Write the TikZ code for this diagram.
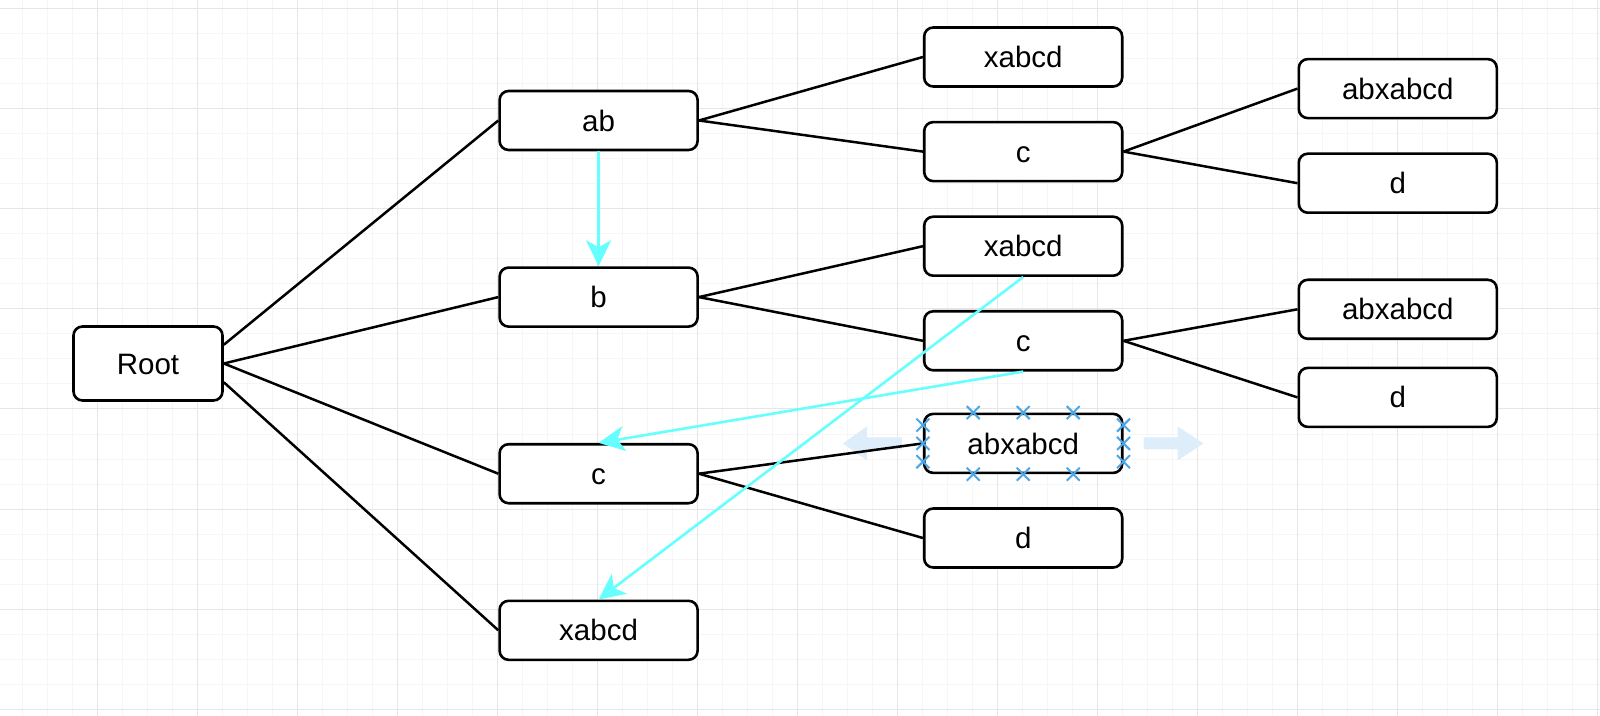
\documentclass[tikz,border=0pt]{standalone}
\usepackage{fontspec}
\setmainfont{Liberation Sans}
\usetikzlibrary{positioning, arrows.meta, shapes.misc}
\definecolor{linkcyan}{RGB}{102,255,255}
\definecolor{portblue}{RGB}{74,166,230}
\definecolor{hoverblue}{RGB}{221,238,250}
\definecolor{gridminor}{RGB}{246,246,246}
\definecolor{gridmajor}{RGB}{230,230,230}

\begin{document}
\begin{tikzpicture}[x=0.5pt,y=-0.5pt,>={Stealth[length=13pt,width=12.5pt,inset=3.5pt]},
    box/.style={draw,line width=1.3pt,rounded corners=4.5pt,fill=white,minimum width=99pt,minimum height=29.5pt,
      inner sep=0pt,text height=10.6pt,text depth=0pt,font=\fontsize{14.75pt}{17pt}\selectfont},
    rootbox/.style={box,minimum width=74.5pt,minimum height=37pt},
    treeline/.style={line width=1.25pt},
    linkarrow/.style={->,draw=linkcyan,line width=1.3pt},
    portx/.style={cross out,draw=portblue,line width=1pt,minimum size=5.5pt,inner sep=0pt},
    hoverarrow/.style={fill=hoverblue},
    minorgrid/.style={draw=gridminor,line width=0.5pt},
    majorgrid/.style={draw=gridmajor,line width=0.5pt}]
                % Background grid
                \fill[white] (0,0) rectangle (1600,716);
                \useasboundingbox (0,0) rectangle (1600,716);
                \foreach \gx in {22,47,...,1597} \draw[minorgrid] (\gx,0) -- (\gx,716);
                \foreach \gy in {9,34,...,709} \draw[minorgrid] (0,\gy) -- (1600,\gy);
                \foreach \gx in {97,197,...,1597} \draw[majorgrid] (\gx,0) -- (\gx,716);
                \foreach \gy in {9,109,...,709} \draw[majorgrid] (0,\gy) -- (1600,\gy);

                % Nodes
                \node[rootbox] (Root) at (148,363.5) {Root};

                \node[box,right=137.25pt of Root,yshift=121.5pt] (AB) {ab};
                \node[box,below=57.5pt of AB] (B) {b};
                \node[box,below=57.5pt of B] (CLeft) {c};
                \node[box,below=47.5pt of CLeft] (XLeft) {xabcd};

                \node[box,right=112pt of AB,yshift=31.75pt] (XTop) {xabcd};
                \node[box,below=16.5pt of XTop] (CTop) {c};
                \node[box,below=16.5pt of CTop] (XMid) {xabcd};
                \node[box,below=16.5pt of XMid] (CMid) {c};
                \node[box,below=20.5pt of CMid] (ABXSel) {abxabcd};
                \node[box,below=16.5pt of ABXSel] (DSel) {d};

                \node[box,right=87pt of CTop,yshift=31.5pt] (ABXTop) {abxabcd};
                \node[box,below=16.5pt of ABXTop] (DTop) {d};
                \node[box,right=87pt of CMid,yshift=15.75pt] (ABXLow) {abxabcd};
                \node[box,below=13.25pt of ABXLow] (DLow) {d};

                % Hover arrows of the selected box
                \begin{scope}[shift={(ABXSel.east)}]
                  \fill[hoverarrow] (20,-6) -- (54,-6) -- (54,-17) -- (80,0) -- (54,17) -- (54,6) -- (20,6) -- cycle;
                \end{scope}
                \begin{scope}[shift={(ABXSel.west)}]
                  \fill[hoverarrow] (-21,-6) -- (-56,-6) -- (-56,-17) -- (-80,0) -- (-56,17) -- (-56,6) -- (-21,6) -- cycle;
                \end{scope}

                % Tree edges
                \draw[treeline] ([yshift=9.375pt]Root.east) -- (AB.west);
                \draw[treeline] (Root.east) -- (B.west);
                \draw[treeline] (Root.east) -- (CLeft.west);
                \draw[treeline] ([yshift=-9.375pt]Root.east) -- (XLeft.west);

                \draw[treeline] (AB.east) -- (XTop.west);
                \draw[treeline] (AB.east) -- (CTop.west);
                \draw[treeline] (B.east) -- (XMid.west);
                \draw[treeline] (B.east) -- (CMid.west);
                \draw[treeline] (CLeft.east) -- (ABXSel.west);
                \draw[treeline] (CLeft.east) -- (DSel.west);

                \draw[treeline] (CTop.east) -- (ABXTop.west);
                \draw[treeline] (CTop.east) -- (DTop.west);
                \draw[treeline] (CMid.east) -- (ABXLow.west);
                \draw[treeline] (CMid.east) -- (DLow.west);

                % Connection points of the selected box
                \foreach \dx [count=\i] in {-25pt,0pt,25pt} {
                  \node[portx] (PortN\i) at ([xshift=\dx]ABXSel.north) {};
                  \node[portx] (PortS\i) at ([xshift=\dx]ABXSel.south) {};
                }
                \foreach \dy [count=\i] in {9.15pt,0pt,-9.15pt} {
                  \node[portx] (PortW\i) at ([yshift=\dy]ABXSel.west) {};
                  \node[portx] (PortE\i) at ([yshift=\dy]ABXSel.east) {};
                }

                % Arrows
                \draw[linkarrow] (AB.south) -- (B.north);
                \draw[linkarrow] (XMid.south) -- (XLeft.north);
                \draw[linkarrow] (CMid.south) -- (CLeft.north);
\end{tikzpicture}
\end{document}
